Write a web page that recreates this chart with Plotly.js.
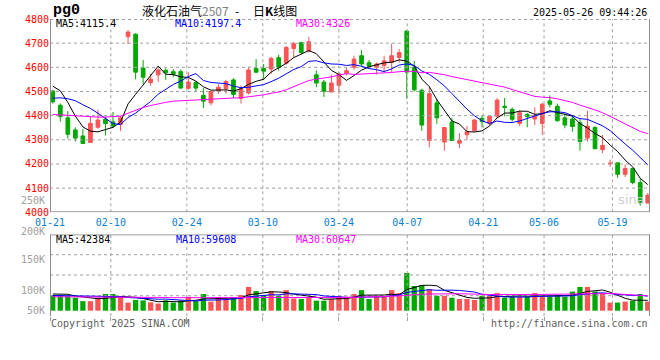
<!DOCTYPE html>
<html><head><meta charset="utf-8">
<script src="https://cdn.plot.ly/plotly-3.0.1.min.js"></script>
<style>html,body{margin:0;padding:0;background:#fff}#chart{width:660px;height:360px}</style>
</head><body><div id="chart"></div>
<script>
const dates = ['01-21','01-22','01-23','01-24','01-27','02-05','02-06','02-07','02-10','02-11',
'02-12','02-13','02-14','02-17','02-18','02-19','02-20','02-21','02-24','02-25',
'02-26','02-27','02-28','03-03','03-04','03-05','03-06','03-07','03-10','03-11',
'03-12','03-13','03-14','03-17','03-18','03-19','03-20','03-21','03-24','03-25',
'03-26','03-27','03-28','03-31','04-01','04-02','04-03','04-07','04-08','04-09',
'04-10','04-11','04-14','04-15','04-16','04-17','04-18','04-21','04-22','04-23',
'04-24','04-25','04-28','04-29','04-30','05-06','05-07','05-08','05-09','05-12',
'05-13','05-14','05-15','05-16','05-19','05-20','05-21','05-22','05-23','05-26'];

const open = [4502,4443,4391,4341,4316,4289,4352,4385,4374,4364,
4727,4737,4597,4537,4569,4588,4582,4582,4513,4537,
4484,4453,4502,4512,4548,4471,4494,4596,4596,4593,
4640,4617,4678,4702,4668,4569,4539,4498,4525,4576,
4600,4648,4619,4600,4607,4620,4641,4750,4600,4505,
4297,4453,4291,4374,4286,4321,4337,4389,4368,4398,
4439,4426,4368,4405,4386,4368,4461,4439,4391,4386,
4371,4307,4351,4259,4201,4205,4157,4181,4123,4038];
const high = [4507,4450,4419,4352,4344,4396,4425,4396,4415,4398,
4754,4741,4630,4573,4596,4596,4593,4591,4580,4541,
4514,4500,4530,4548,4555,4525,4603,4634,4614,4644,
4652,4689,4706,4706,4726,4587,4548,4570,4580,4600,
4648,4671,4630,4620,4648,4698,4675,4753,4627,4511,
4520,4471,4351,4391,4327,4357,4385,4402,4398,4473,
4473,4434,4423,4412,4434,4453,4484,4450,4409,4402,
4385,4420,4357,4320,4218,4205,4198,4181,4139,4079];
const low = [4450,4375,4305,4293,4284,4289,4346,4318,4348,4337,
4696,4550,4532,4524,4539,4548,4559,4512,4507,4498,
4432,4443,4490,4491,4473,4450,4488,4576,4548,4573,
4586,4611,4641,4655,4661,4518,4477,4498,4491,4566,
4589,4603,4600,4570,4580,4580,4620,4470,4500,4337,
4269,4366,4255,4297,4266,4300,4334,4352,4360,4389,
4398,4375,4357,4352,4361,4320,4434,4375,4348,4334,
4255,4293,4263,4245,4188,4143,4146,4116,4027,4038];
const close = [4457,4396,4323,4307,4285,4368,4382,4367,4357,4391,
4746,4580,4559,4551,4589,4578,4571,4514,4539,4514,
4460,4500,4518,4541,4488,4512,4589,4580,4584,4637,
4600,4682,4698,4661,4706,4535,4501,4535,4573,4586,
4634,4614,4604,4614,4627,4648,4661,4580,4507,4361,
4491,4391,4351,4297,4297,4334,4382,4375,4398,4464,
4434,4385,4412,4396,4400,4447,4447,4379,4361,4355,
4293,4357,4263,4277,4203,4157,4181,4123,4041,4071];

const ma5 = [4522,4503,4455,4398,4353.6,4335.8,4333,4341.8,4351.8,4373,
4448.6,4488.2,4526.6,4565.4,4605,4571.4,4569.6,4560.6,4558.2,4543.2,
4519.6,4505.4,4506.2,4506.6,4501.4,4511.8,4529.6,4542,4550.6,4580.4,
4598,4616.6,4640.2,4655.6,4669.4,4656.4,4620.2,4587.6,4570,4546,
4565.8,4588.4,4602.2,4610.4,4618.6,4621.4,4630.8,4626,4604.6,4551.4,
4520,4466,4420.2,4378.2,4365.4,4334,4332.2,4337,4357.2,4390.6,
4410.6,4411.2,4418.6,4418.2,4405.4,4408,4420.4,4413.8,4406.8,4397.8,
4367,4349,4325.8,4309,4278.6,4251.4,4216.2,4188.2,4141,4114.6];
const ma10 = [4472,4474,4470,4462,4445,4430,4410,4388,4367,4363.3,
4392.2,4410.6,4434.2,4458.6,4489,4510,4528.9,4543.6,4561.8,4574.1,
4545.5,4537.5,4533.4,4532.4,4522.3,4515.7,4517.5,4524.1,4528.6,4540.9,
4554.9,4573.1,4591.1,4603.1,4624.9,4627.2,4618.4,4613.9,4612.8,4607.7,
4611.1,4604.3,4594.9,4590.2,4582.3,4593.6,4609.6,4614.1,4607.5,4585,
4570.7,4548.4,4523.1,4491.4,4458.4,4427,4399.1,4378.6,4367.7,4378,
4372.3,4371.7,4377.8,4387.7,4398,4409.3,4415.8,4416.2,4412.5,4401.6,
4387.5,4384.7,4369.8,4357.9,4338.2,4309.2,4282.6,4257,4225,4196.6];
const ma30 = [4405,4403,4400,4398,4396,4395,4394,4394,4395,4398,
4410,4422,4434,4442,4450,4455,4460,4462,4464,4466,
4468,4470,4472,4473,4473,4474,4477,4480,4486,4492.8,
4497.5,4507.1,4519.6,4531.4,4545.4,4551,4554.9,4560.5,4567.7,4574.2,
4570.5,4571.6,4573.1,4575.2,4576.5,4578.8,4581.8,4584,4583,4577.9,
4578.9,4575.3,4569.7,4561.6,4555.2,4549.3,4542.4,4535.5,4529.3,4523.6,
4518,4508.1,4498.6,4489.8,4479.6,4476.6,4474.8,4469.6,4462.6,4454.9,
4443.5,4434.9,4423.6,4412.3,4398.2,4381.8,4365.8,4350.6,4335.1,4325.4];

const volume = [64000,64000,61000,53000,39000,39000,53000,68000,68000,60000,
33000,44000,42000,34000,29000,42000,33000,42000,57000,39000,
68000,37000,56000,50000,56000,64000,97000,80000,64000,80000,
61000,84000,50000,48000,53000,41000,41000,48000,60000,57000,
68000,84000,48000,60000,60000,84000,72000,154000,101000,105000,
88000,61000,61000,53000,48000,48000,44000,61000,61000,72000,
53000,57000,57000,57000,72000,57000,57000,64000,57000,78000,
97000,97000,78000,72000,33000,33000,37000,41000,68000,37000];
const vma5 = [68000,68000,67000,60000,56200,51200,49000,50400,53400,57600,
56400,54600,49400,42600,36400,38200,36000,36000,40600,42600,
47800,48600,51400,50000,53400,52600,64600,69400,72200,77000,
76400,73800,67800,64600,59200,55200,46600,46200,48600,49400,
54800,63400,63400,63400,64000,67200,64800,86000,94200,103200,
104000,101800,83200,73600,62200,54200,50800,50800,52400,57200,
58200,60800,60000,59200,59200,60000,60000,61400,61400,62600,
70600,78600,81400,84400,75400,62600,50600,43200,42400,42384];
const vma10 = [62000,62000,62000,61000,61000,60000,59000,58000,58000,56900,
53800,51800,49900,48000,47000,47300,45300,42700,41600,39500,
43000,42300,43700,45300,48000,50200,56600,60400,61100,65200,
64500,69200,68600,68400,68100,65800,60200,57000,56600,54300,
55000,55000,54800,56000,56700,61000,64100,74700,78800,83600,
85600,83300,84600,83900,82700,79100,76300,67000,63000,59700,
56200,55800,55400,55800,58200,59100,60400,60700,60300,60900,
65300,69300,71400,72900,69000,66600,64600,62300,63400,59608];
const vma30 = [57000,57000,57000,56000,56000,56000,56000,56000,56000,56000,
56000,55000,55000,55000,54000,54000,53000,53000,52000,52000,
52000,52000,52000,52000,52000,52000,53000,53000,53500,53900,
53800,54400,54100,53900,54400,54400,54000,53400,53100,53000,
54200,55500,55700,56600,57600,59000,60300,64000,65500,67700,
68400,69200,69300,69400,69200,68600,66900,66200,66100,65900,
65600,64700,64900,65200,65900,66400,66900,67500,67400,68100,
69000,69500,70500,70900,70000,68300,67100,63300,62200,60647];

const dateTicks = ['01-21','02-10','02-24','03-10','03-24','04-07','04-21','05-06','05-19'];
const priceTicks = [4000,4100,4200,4300,4400,4500,4600,4700,4800];
const volTickText = ['250K','200K','150K','100K','50K'];
const priceMaLabels = ['MA5:4115.4','MA10:4197.4','MA30:4326'];
const volMaLabels = ['MA5:42384','MA10:59608','MA30:60647'];

// ---- styling / geometry ----
const W=660,H=360,L=50,R=10,T=19,B=44;
const pw=W-L-R, ph=H-T-B;
const px = x => (x-L)/pw;
const py = y => (H-B-y)/ph;
const RED='#fa5454', GREEN='#00a800', FRAME='#8c8c8c', GRID='#a0a0a0';
const BLUE_T='#0a7fd0', MONO='DejaVu Sans Mono';
const idx = dates.map((d,i)=>i);
const XR = [-0.365, 79.3];
const unitPx = pw/(XR[1]-XR[0]);
const halfX = 0.5/unitPx;
// date grid runs on a slightly wider step (7.6px per trading day) than the candles
const gridVals = dateTicks.map(d=>XR[0]+0.005+dates.indexOf(d)*7.60/unitPx);
const PR = [4000,4800];
const priceTop = 19, priceBot = 212.3;
const halfP = 0.5*(PR[1]-PR[0])/(priceBot-priceTop);
const volPerPx = 4080, volZeroY = 310.7;
const volRange = [-(316-volZeroY)*volPerPx, (volZeroY-234.3)*volPerPx];
const volGrid = [254.7,275,295.7].map(y=>(volZeroY-y)*volPerPx);
const volLabelY = [200.7,231,259,290,310];

// helper: build a multi-segment polyline trace from segment list
function segTrace(segs, color, dash, xa, ya){
  const x=[], y=[];
  segs.forEach(s=>{ x.push(s[0],s[2],null); y.push(s[1],s[3],null); });
  return {type:'scatter',mode:'lines',x:x,y:y,xaxis:xa,yaxis:ya,hoverinfo:'skip',showlegend:false,
    line:{color:color,width:1,dash:dash}};
}
const priceGrid = segTrace(
  priceTicks.filter(v=>v>PR[0]).map(v=>[XR[0],v===PR[1]?v-halfP:v,XR[1],v===PR[1]?v-halfP:v])
   .concat(gridVals.slice(1).map(g=>[g,PR[0],g,PR[1]])), GRID,'dot','x','y');
const priceFrame = segTrace([[XR[0]+halfX,PR[0],XR[0]+halfX,PR[1]],[XR[1]-halfX,PR[0],XR[1]-halfX,PR[1]],
  [XR[0],PR[0]+halfP,XR[1],PR[0]+halfP]], FRAME,'solid','x','y');
const volHalf = 0.5*volPerPx;
const volGridT = segTrace(volGrid.map(v=>[XR[0],v,XR[1],v])
   .concat(gridVals.slice(1).map(g=>[g,volRange[0],g,volRange[1]])), GRID,'dot','x2','y2');
const volFrame = segTrace([[XR[0]+halfX,volRange[0],XR[0]+halfX,volRange[1]],[XR[1]-halfX,volRange[0],XR[1]-halfX,volRange[1]],
  [XR[0],volRange[1]-volHalf,XR[1],volRange[1]-volHalf]], FRAME,'solid','x2','y2');

const line = (x,y,c,xa,ya)=>({type:'scatter',mode:'lines',x:x,y:y,xaxis:xa,yaxis:ya,
  line:{color:c,width:1},hoverinfo:'skip',showlegend:false});

const traces = [
  priceGrid, volGridT,
  {type:'candlestick',x:idx,open:open,high:high,low:low,close:close,xaxis:'x',yaxis:'y',
   increasing:{line:{color:RED,width:1},fillcolor:RED},
   decreasing:{line:{color:GREEN,width:1},fillcolor:GREEN},
   whiskerwidth:0,hoverinfo:'skip',showlegend:false},
  line(idx,ma5,'#000000','x','y'),
  line(idx,ma10,'#0000ff','x','y'),
  line(idx,ma30,'#ff00ff','x','y'),
  {type:'bar',x:idx,y:volume,xaxis:'x2',yaxis:'y2',
   marker:{color:idx.map(i=>close[i]>=open[i]?RED:GREEN),line:{width:0}},
   hoverinfo:'skip',showlegend:false},
  line(idx,vma5,'#000000','x2','y2'),
  line(idx,vma10,'#0000ff','x2','y2'),
  line(idx,vma30,'#ff00ff','x2','y2'),
  priceFrame, volFrame
];

const ann = (t,x,y,xa,c,sz,extra)=>Object.assign({text:t,x:px(x),y:py(y),xref:'paper',yref:'paper',
  xanchor:xa,yanchor:'middle',showarrow:false,font:{family:MONO,size:sz||10,color:c||'#000'}},extra||{});

const annotations = [
  ann('pg0',51,11,'left','#000',15,{font:{family:'Liberation Mono',size:15,color:'#000',weight:'bold'}}),
  ann('液化石油气<span style="color:#808080">2507</span>',140,11,'left','#000',12,{font:{family:'Noto Sans CJK SC',size:12,color:'#000'}}),
  ann('-',233,11,'left','#000',12,{font:{family:'Noto Sans CJK SC',size:12,color:'#000'}}),
  ann('日<b>K</b>线图',251,11,'left','#000',12,{font:{family:'Noto Sans CJK SC',size:12,color:'#000'}}),
  ann('2025-05-26 09:44:26',649,12,'right','#000',10),
  ann(priceMaLabels[0],54,23.5,'left','#000000'),
  ann(priceMaLabels[1],173,23.5,'left','#0000ff'),
  ann(priceMaLabels[2],294,23.5,'left','#ff00ff'),
  ann(volMaLabels[0],54,239,'left','#000000'),
  ann(volMaLabels[1],174,239,'left','#0000ff'),
  ann(volMaLabels[2],294,239,'left','#ff00ff'),
  ann('Copyright 2025 SINA.COM',49,323.5,'left','#606060'),
  ann('http://finance.sina.com.cn',650,323.5,'right','#606060'),
  ann('sina',631,199,'center','#cfcfcf',13,{font:{family:'DejaVu Sans',size:13,color:'#cfcfcf'}})
].concat(volTickText.map((t,i)=>ann(t,46.5,volLabelY[i],'right','#a0a0a0',10)));

const layout = {
  width:W,height:H,margin:{l:L,r:R,t:T,b:B},
  showlegend:false, paper_bgcolor:'#ffffff', plot_bgcolor:'#ffffff',
  boxgap:0.3, bargap:0.3,
  xaxis:{domain:[0,1],anchor:'y',range:XR,tickmode:'array',tickvals:gridVals,ticktext:dateTicks,
    showgrid:false,zeroline:false,ticks:'',ticklabelstandoff:3,
    tickfont:{family:MONO,size:10,color:BLUE_T},rangeslider:{visible:false}},
  xaxis2:{domain:[0,1],anchor:'y2',range:XR,tickmode:'array',tickvals:gridVals,
    showticklabels:false,showgrid:false,zeroline:false,
    ticks:'outside',ticklen:4,tickcolor:GRID},
  yaxis:{domain:[py(priceBot),1],anchor:'x',range:PR,tickmode:'array',tickvals:priceTicks,
    showgrid:false,zeroline:false,ticks:'',
    tickfont:{family:MONO,size:10,color:'#ff0000'}},
  yaxis2:{domain:[0,py(234.3)],anchor:'x2',range:volRange,
    showticklabels:false,showgrid:false,zeroline:false,ticks:''},
  annotations:annotations
};

Plotly.newPlot('chart',traces,layout,{staticPlot:true,displayModeBar:false});
</script></body></html>
